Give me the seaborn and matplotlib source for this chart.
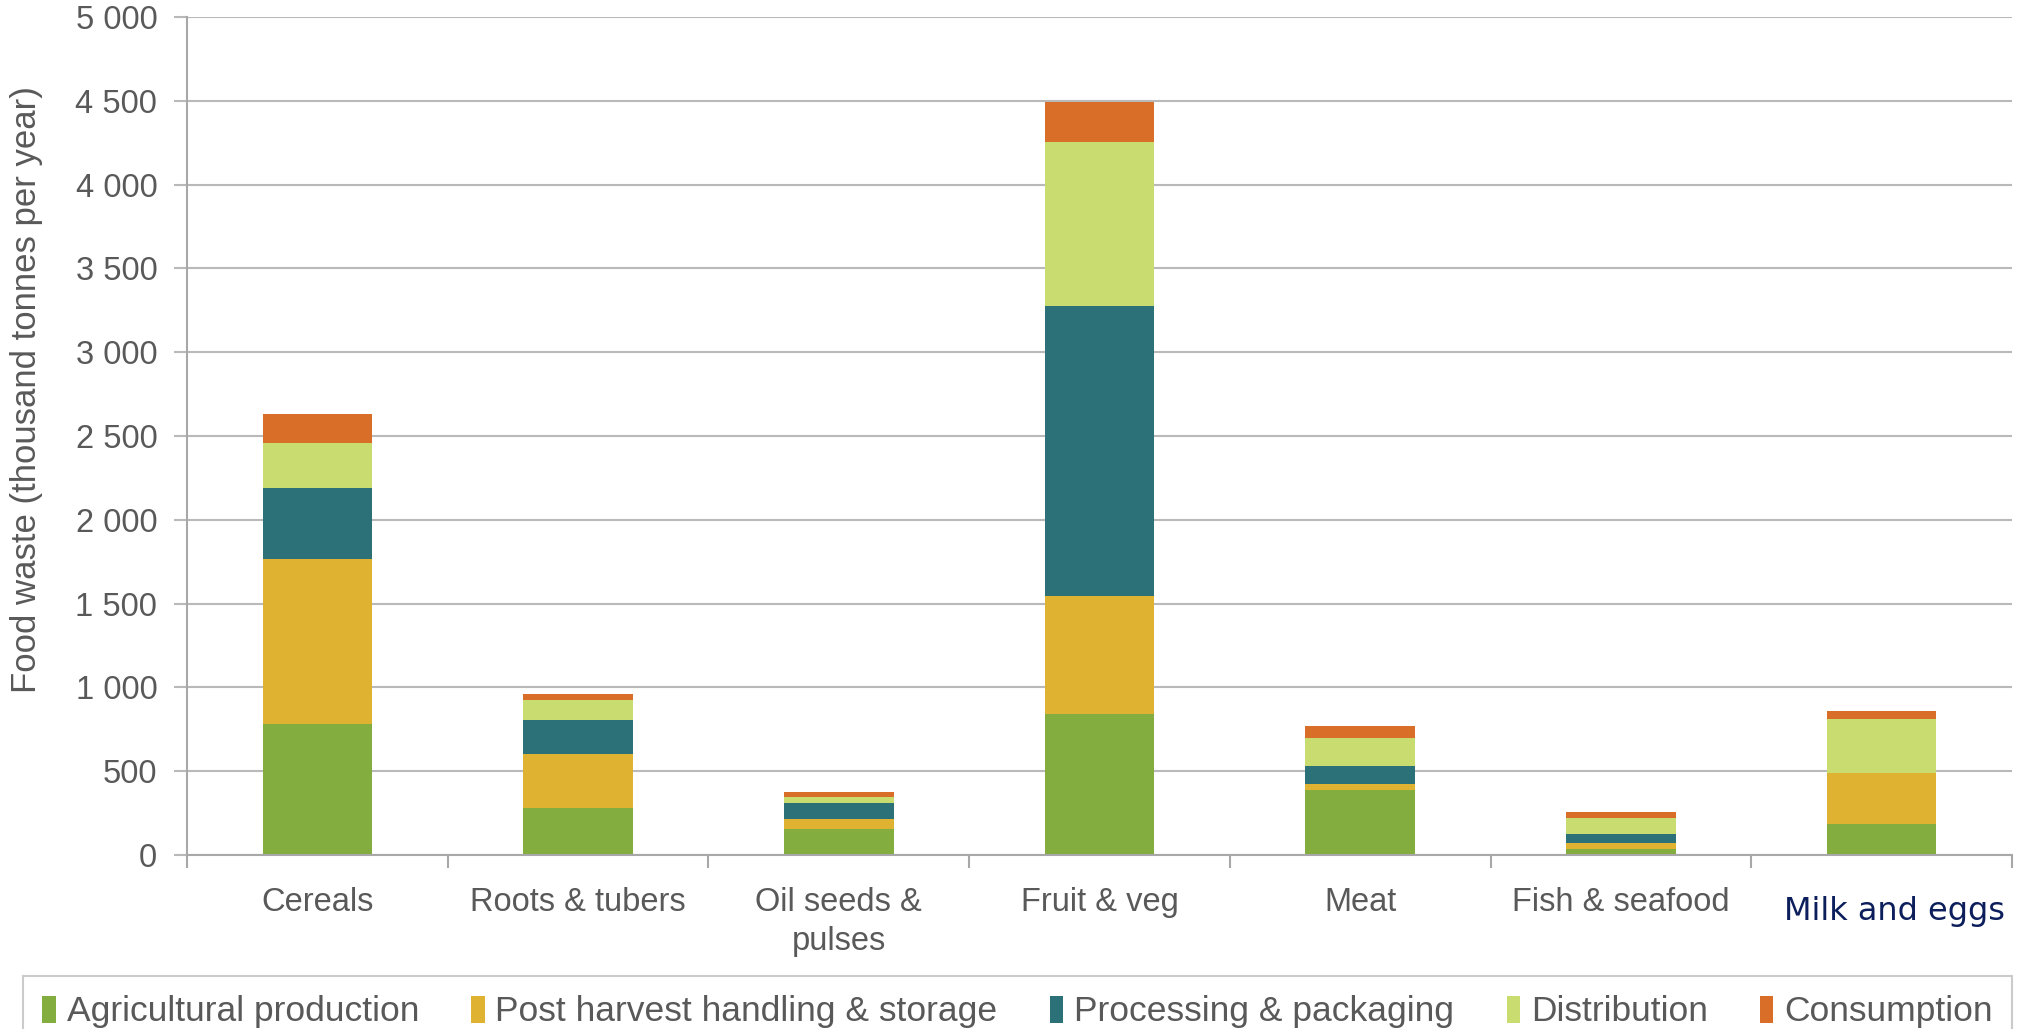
import numpy as np
import pandas as pd
import matplotlib
matplotlib.use("Agg")
import matplotlib.pyplot as plt
import matplotlib.transforms as mtransforms
from matplotlib.ticker import FuncFormatter, FixedLocator
import seaborn as sns

# ---- data ----
categories = ["Cereals", "Roots & tubers", "Oil seeds &\npulses", "Fruit & veg",
              "Meat", "Fish & seafood", "Milk and eggs"]
stages = ["Agricultural production", "Post harvest handling & storage",
          "Processing & packaging", "Distribution", "Consumption"]
agricultural_production = [783, 278, 158, 841, 385, 38, 183]
post_harvest_storage = [982, 325, 58, 704, 37, 36, 307]
processing_packaging = [422, 204, 96, 1728, 107, 49, 0]
distribution = [273, 120, 36, 982, 168, 95, 322]
consumption = [170, 35, 26, 240, 72, 36, 49]
y_ticks = [0, 500, 1000, 1500, 2000, 2500, 3000, 3500, 4000, 4500, 5000]
stage_colors = ["#83ad3f", "#dfb331", "#2c7177", "#c9dc6f", "#d96e29"]

TEXT = "#595959"
GRID = "#b9b9b9"

sns.set_theme(style="white")
plt.rcParams["font.family"] = ["Liberation Sans", "DejaVu Sans"]

fig = plt.figure(figsize=(20.18, 10.29), dpi=100)
ax = fig.add_axes([187 / 2018, 174 / 1029, 1825 / 2018, 838 / 1029])
ax.set_axisbelow(True)

series = [agricultural_production, post_harvest_storage, processing_packaging,
          distribution, consumption]
bottom = np.zeros(len(categories))
for name, vals, col in zip(stages, series, stage_colors):
    df = pd.DataFrame({"category": categories, "value": vals})
    sns.barplot(data=df, x="category", y="value", order=categories, color=col,
                saturation=1, width=0.42, errorbar=None, bottom=bottom.copy(),
                label=name, linewidth=0, edgecolor="none", ax=ax)
    bottom += np.array(vals, dtype=float)

if ax.get_legend() is not None:
    ax.get_legend().remove()

ax.set_xlim(-0.5, 6.5)
ax.set_ylim(0, 5000)
ax.yaxis.set_major_locator(FixedLocator(y_ticks))
ax.yaxis.set_major_formatter(FuncFormatter(lambda v, p: f"{int(v):,}".replace(",", " ")))

ax.grid(axis="y", color=GRID, linewidth=1.5)
ax.grid(axis="x", visible=False)
for s in ["top", "right"]:
    ax.spines[s].set_visible(False)
for s in ["left", "bottom"]:
    ax.spines[s].set_color("#a8a8a8")
    ax.spines[s].set_linewidth(1.5)

ax.tick_params(axis="y", which="major", left=True, direction="out", length=9.4,
               width=1.5, color=GRID, labelsize=23.5, labelcolor=TEXT, pad=12)
ax.set_xticks(np.arange(-0.5, 7.0, 1.0), minor=True)
ax.tick_params(axis="x", which="major", bottom=True, length=0, labelsize=23.5,
               labelcolor=TEXT, pad=23)
ax.tick_params(axis="x", which="minor", bottom=True, length=9.4, width=1.5,
               color="#a8a8a8", direction="out")

ax.set_xlabel("")
ax.set_ylabel("Food waste (thousand tonnes per year)", fontsize=25, color=TEXT)
ax.yaxis.set_label_coords(-0.079, 0.556)

for lab in ax.get_xticklabels():
    lab.set_linespacing(1.32)
milk = ax.get_xticklabels()[6]
milk.set_color("#0c1f5c")
milk.set_fontfamily("DejaVu Sans")
milk.set_fontsize(23)
milk.set_transform(milk.get_transform() +
                   mtransforms.ScaledTranslation(13 / 100, -9 / 100, fig.dpi_scale_trans))

handles, labels = ax.get_legend_handles_labels()
leg = fig.legend(handles, labels, loc="upper left",
                 bbox_to_anchor=(23 / 2018, -0.5, 1989 / 2018, 0.5 + 53 / 1029),
                 mode="expand", ncol=5, frameon=True, fancybox=False, fontsize=25.5,
                 handlelength=0.38, handleheight=0.8, handletextpad=0.3,
                 borderpad=0.55, borderaxespad=0)
leg.get_frame().set_edgecolor("#bfbfbf")
leg.get_frame().set_linewidth(1.5)
for t in leg.get_texts():
    t.set_color(TEXT)

fig.savefig("out.png", dpi=100)
